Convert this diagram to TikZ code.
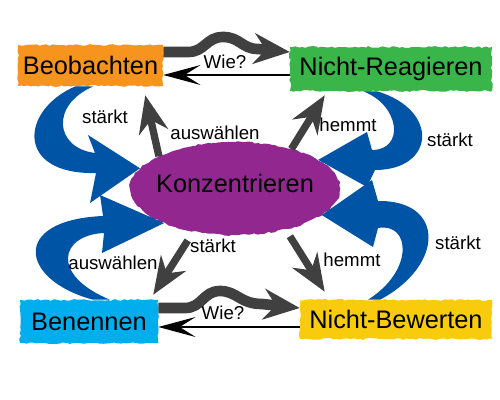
\documentclass[tikz,border=0pt]{standalone}
\usepackage{fontspec}
\setmainfont{Liberation Sans}
\usetikzlibrary{arrows.meta,decorations.pathmorphing,shapes.geometric}
\definecolor{beoorange}{HTML}{F7941D}
\definecolor{reaggreen}{HTML}{39B54A}
\definecolor{bencyan}{HTML}{00AEEF}
\definecolor{bewyellow}{HTML}{F8CB0C}
\definecolor{konzpurple}{HTML}{92278F}
\definecolor{swoopblue}{HTML}{0054A6}
\definecolor{arrowgray}{HTML}{404040}
\tikzset{
	brush/.style={decorate, decoration={random steps, segment length=2.5pt, amplitude=0.7pt}},
	box/.style={brush, inner sep=0pt, font=\fontsize{19}{22}\selectfont},
	lbl/.style={inner sep=1pt, font=\fontsize{14}{16}\selectfont},
	swoop/.style={fill=swoopblue},
	grayarrow/.style={draw=arrowgray, line width=5.5pt, -{Stealth[length=28pt,width=22pt,inset=9pt]}},
	wave/.style={draw=arrowgray, line width=8pt, -{Stealth[length=27pt,width=23pt,inset=9pt]}},
	back/.style={draw=black, line width=1.6pt, -{Stealth[length=28pt,width=15pt,inset=12pt]}}
}

\begin{document}
\begin{tikzpicture}[x=0.75pt, y=-0.75pt]
			%%%%% START %%%%%
			\useasboundingbox (0,0) rectangle (500,400);
			
			\node[box, fill=beoorange, minimum width=108.75pt, minimum height=30.75pt] (beo) at (90.5,65.5) {Beobachten};
			\node[box, fill=reaggreen, minimum width=151.5pt, minimum height=33pt] (nreag) at (391,69) {Nicht-Reagieren};
			\node[box, fill=bencyan, minimum width=103.5pt, minimum height=32.25pt] (ben) at (89,321.5) {Benennen};
			\node[box, fill=bewyellow, minimum width=144pt, minimum height=29.25pt] (nbew) at (396,319.5) {Nicht-Bewerten};
			
			\node[box, ellipse, fill=konzpurple, minimum width=157.5pt, minimum height=69.75pt, inner xsep=-5pt, text depth=8pt] (konz) at (235,188.5) {Konzentrieren};
			
			% top pair
			\draw[wave] ([shift={(0,-13.5)}]beo.east) -- (188,52) .. controls (205,52) and (206,37) .. (223,37) .. controls (240,37) and (242,49) .. (258,49) -- ([shift={(0,-17)}]nreag.west);
			\draw[back] ([shift={(0,6)}]nreag.west) -- ([shift={(0,9.5)}]beo.east);
			\node[lbl] (wie1) at (225,62) {Wie?};
			
			% bottom pair
			\draw[wave] ([shift={(0,-13.5)}]ben.east) -- (185,308) .. controls (202,308) and (203,291) .. (220,291) .. controls (237,291) and (240,304) .. (262,304) -- ([shift={(0,-11.5)}]nbew.west);
			\draw[back] ([shift={(0,7.5)}]nbew.west) -- ([shift={(0,5.5)}]ben.east);
			\node[lbl] (wie2) at (223,313) {Wie?};
			
			% blue swoops
			\fill[swoop] ([shift={(-15,0)}]beo.south) .. controls (20,110) and (15,175) .. (96,173) -- (90,203) -- (konz.168) -- (88,135) -- (95,153) .. controls (55,148) and (50,105) .. ([shift={(3,0)}]beo.south) -- cycle;
			\fill[swoop] ([shift={(-14,0)}]nreag.south) .. controls (440,110) and (435,170) .. (375,170) -- (367,187) -- (konz.19) -- (367,132) -- (372,150) .. controls (405,150) and (400,105) .. ([shift={(-28,0)}]nreag.south) -- cycle;
			\fill[swoop] ([shift={(4,0)}]ben.north) .. controls (20,280) and (10,220) .. (103,216) -- (100,195) -- (konz.206) -- (102,253) -- (104,233) .. controls (60,235) and (50,275) .. ([shift={(21,0)}]ben.north) -- cycle;
			\fill[swoop] ([shift={(-16,0)}]nbew.north) .. controls (445,265) and (445,200) .. (378,201) -- (372,180) -- (konz.343) -- (373,247) -- (378,228) .. controls (410,222) and (415,270) .. ([shift={(-28,0)}]nbew.north) -- cycle;
			
			\node[lbl] (s1) at (105,117) {stärkt};
			\node[lbl] (s2) at (450,140) {stärkt};
			\node[lbl] (s3) at (113,263) {auswählen};
			\node[lbl] (s4) at (458,243) {stärkt};
			
			% gray arrows
			\draw[grayarrow] (konz.157) -- ([shift={(-18,9)}]beo.south east);
			\draw[grayarrow] (konz.35) -- ([shift={(35,4)}]nreag.south west);
			\draw[grayarrow, shorten <=8pt] (konz.226) -- ([shift={(-5,-5)}]ben.north east);
			\draw[grayarrow, shorten <=6pt] (konz.321) -- ([shift={(25,-8)}]nbew.north west);
			
			\node[lbl] (g1) at (215,133) {auswählen};
			\node[lbl] (g2) at (348,125) {hemmt};
			\node[lbl] (g3) at (213,246) {stärkt};
			\node[lbl] (g4) at (352,260) {hemmt};
			%%%%% END %%%%%
\end{tikzpicture}
\end{document}
